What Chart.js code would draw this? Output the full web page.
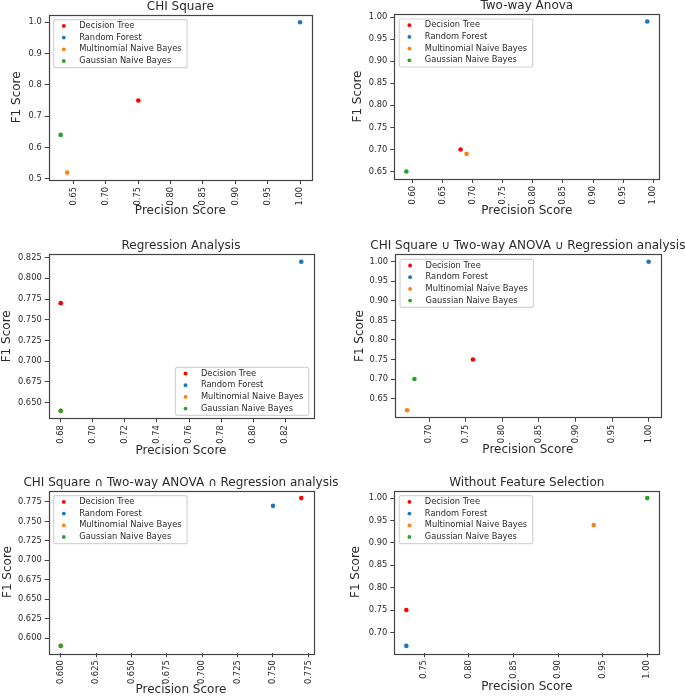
<!DOCTYPE html>
<html>
<head>
<meta charset="utf-8">
<script src="https://cdn.jsdelivr.net/npm/chart.js@4.4.0/dist/chart.umd.min.js"></script>
<style>
  body { margin: 0; background: #fff; }
  #wrap { position: relative; width: 685px; height: 696px; overflow: hidden; }
  canvas { position: absolute; }
</style>
</head>
<body>
<div id="wrap"></div>
<script>
// model names, same order in every panel
const models = ['Decision Tree', 'Random Forest', 'Multinomial Naive Bayes', 'Gaussian Naive Bayes'];

// CHI Square
const chiPrecision = [0.75, 1.00, 0.64, 0.63];
const chiF1 = [0.75, 1.00, 0.52, 0.64];
const chiXTicks = ['0.65', '0.70', '0.75', '0.80', '0.85', '0.90', '0.95', '1.00'];
const chiYTicks = ['0.5', '0.6', '0.7', '0.8', '0.9', '1.0'];

// Two-way Anova
const anovaPrecision = [0.68, 0.99, 0.69, 0.59];
const anovaF1 = [0.70, 0.99, 0.69, 0.65];
const anovaXTicks = ['0.60', '0.65', '0.70', '0.75', '0.80', '0.85', '0.90', '0.95', '1.00'];
const anovaYTicks = ['0.65', '0.70', '0.75', '0.80', '0.85', '0.90', '0.95', '1.00'];

// Regression Analysis
const regPrecision = [0.68, 0.83, 0.68, 0.68];
const regF1 = [0.77, 0.82, 0.64, 0.64];
const regXTicks = ['0.68', '0.70', '0.72', '0.74', '0.76', '0.78', '0.80', '0.82'];
const regYTicks = ['0.650', '0.675', '0.700', '0.725', '0.750', '0.775', '0.800', '0.825'];

// union of the three
const unionPrecision = [0.76, 1.00, 0.67, 0.68];
const unionF1 = [0.75, 1.00, 0.62, 0.70];
const unionXTicks = ['0.70', '0.75', '0.80', '0.85', '0.90', '0.95', '1.00'];
const unionYTicks = ['0.65', '0.70', '0.75', '0.80', '0.85', '0.90', '0.95', '1.00'];

// intersection of the three
const interPrecision = [0.77, 0.75, 0.60, 0.60];
const interF1 = [0.78, 0.77, 0.59, 0.59];
const interXTicks = ['0.600', '0.625', '0.650', '0.675', '0.700', '0.725', '0.750', '0.775'];
const interYTicks = ['0.600', '0.625', '0.650', '0.675', '0.700', '0.725', '0.750', '0.775'];

// no feature selection
const nofsPrecision = [0.73, 0.73, 0.94, 1.00];
const nofsF1 = [0.75, 0.67, 0.94, 1.00];
const nofsXTicks = ['0.75', '0.80', '0.85', '0.90', '0.95', '1.00'];
const nofsYTicks = ['0.70', '0.75', '0.80', '0.85', '0.90', '0.95', '1.00'];

const colors = ['#ff0000', '#1f77b4', '#ff7f0e', '#2ca02c'];
const FONT = '"DejaVu Sans", sans-serif';
const TEXT = '#2b2b2b';
const SPINE = '#444';

const panels = [
  { title: 'CHI Square', px: chiPrecision, f1: chiF1, xt: chiXTicks, yt: chiYTicks,
    box: { x: 0, y: 0, w: 340, h: 225, left: 48.7, top: 14.7, right: 28, bottom: 45 }, xlab: 31, ylab: 31.4, legend: 'tl' },
  { title: 'Two-way Anova', px: anovaPrecision, f1: anovaF1, xt: anovaXTicks, yt: anovaYTicks,
    box: { x: 340, y: 0, w: 345, h: 225, left: 54.3, top: 14, right: 25.7, bottom: 46 }, xlab: 31.7, ylab: 36, legend: 'tl' },
  { title: 'Regression Analysis', px: regPrecision, f1: regF1, xt: regXTicks, yt: regYTicks,
    box: { x: 0, y: 225, w: 340, h: 235, left: 48.7, top: 29.3, right: 26.7, bottom: 41.7 }, xlab: 32.7, ylab: 42, legend: 'br' },
  { title: 'CHI Square \u222A Two-way ANOVA \u222A Regression analysis', px: unionPrecision, f1: unionF1, xt: unionXTicks, yt: unionYTicks,
    box: { x: 340, y: 225, w: 345, h: 235, left: 55, top: 29.3, right: 24.3, bottom: 42.3 }, xlab: 32.3, ylab: 35, legend: 'tl' },
  { title: 'CHI Square \u2229 Two-way ANOVA \u2229 Regression analysis', px: interPrecision, f1: interF1, xt: interXTicks, yt: interYTicks,
    box: { x: 0, y: 460, w: 340, h: 236, left: 48.7, top: 30.7, right: 26.7, bottom: 42.7 }, xlab: 36.7, ylab: 40.4, legend: 'tl' },
  { title: 'Without Feature Selection', px: nofsPrecision, f1: nofsF1, xt: nofsXTicks, yt: nofsYTicks,
    box: { x: 340, y: 460, w: 345, h: 236, left: 54.3, top: 30.7, right: 25.7, bottom: 42.7 }, xlab: 33.4, ylab: 38.3, legend: 'tl' }
];

// matplotlib style 5% margins around the data
function range(vals) {
  const lo = Math.min(...vals), hi = Math.max(...vals);
  const m = (hi - lo) * 0.05;
  return [lo - m, hi + m];
}

// frame, titles, axis labels and legend drawn inside the chart
const decor = {
  id: 'decor',
  afterDraw(chart, args, opts) {
    const ctx = chart.ctx;
    const a = chart.chartArea;
    ctx.save();
    ctx.strokeStyle = SPINE;
    ctx.lineWidth = 1.2;
    ctx.strokeRect(Math.round(a.left) + 0.5, Math.round(a.top) + 0.5, Math.round(a.right - a.left), Math.round(a.bottom - a.top));

    ctx.fillStyle = TEXT;
    ctx.textAlign = 'center';
    ctx.textBaseline = 'middle';
    ctx.font = '12px ' + FONT;
    ctx.fillText(opts.title, (a.left + a.right) / 2, a.top - 8);
    ctx.fillText('Precision Score', (a.left + a.right) / 2, a.bottom + opts.xlab);
    ctx.save();
    ctx.translate(a.left - opts.ylab, (a.top + a.bottom) / 2);
    ctx.rotate(-Math.PI / 2);
    ctx.fillText('F1 Score', 0, 0);
    ctx.restore();

    // legend
    ctx.font = '8.3px ' + FONT;
    const ds = chart.data.datasets;
    let tw = 0;
    ds.forEach(d => { tw = Math.max(tw, ctx.measureText(d.label).width); });
    const w = 26 + tw + 5, h = 48;
    let lx, ly;
    if (opts.legend === 'br') { lx = a.right - 5 - w; ly = a.bottom - 3.5 - h; }
    else { lx = a.left + 4.5; ly = a.top + 4.5; }
    ctx.beginPath();
    ctx.roundRect(lx + 0.5, ly + 0.5, w, h, 2);
    ctx.fillStyle = 'rgba(255,255,255,0.8)';
    ctx.fill();
    ctx.strokeStyle = '#d4d4d4';
    ctx.stroke();
    ctx.textAlign = 'left';
    ds.forEach((d, i) => {
      const cy = ly + 6.7 + i * 11.7;
      ctx.beginPath();
      ctx.arc(lx + 10.6, cy, 1.9, 0, Math.PI * 2);
      ctx.fillStyle = d.backgroundColor;
      ctx.fill();
      ctx.fillStyle = TEXT;
      ctx.fillText(d.label, lx + 26, cy);
    });
    ctx.restore();
  }
};

const wrap = document.getElementById('wrap');
panels.forEach(p => {
  const b = p.box;
  const cv = document.createElement('canvas');
  cv.width = b.w; cv.height = b.h;
  cv.style.left = b.x + 'px'; cv.style.top = b.y + 'px';
  wrap.appendChild(cv);

  const xr = range(p.px), yr = range(p.f1);
  const xv = p.xt.map(Number), yv = p.yt.map(Number);
  const tickFont = { family: FONT, size: 8.3 };

  new Chart(cv, {
    type: 'scatter',
    data: {
      datasets: models.map((m, i) => ({
        label: m,
        data: [{ x: p.px[i], y: p.f1[i] }],
        backgroundColor: colors[i],
        borderWidth: 0,
        pointRadius: 2.3,
        order: models.length - i
      }))
    },
    options: {
      responsive: false,
      animation: false,
      layout: { padding: { top: b.top, right: b.right, left: 0, bottom: 0 } },
      plugins: {
        legend: { display: false },
        tooltip: { enabled: false },
        decor: { title: p.title, xlab: p.xlab, ylab: p.ylab, legend: p.legend }
      },
      scales: {
        x: {
          type: 'linear', min: xr[0], max: xr[1],
          afterBuildTicks: s => { s.ticks = xv.map(v => ({ value: v })); },
          afterFit: s => { s.height = b.bottom; },
          grid: { drawOnChartArea: false, drawTicks: true, tickLength: 4, color: SPINE },
          border: { display: false },
          ticks: { autoSkip: false, minRotation: 90, maxRotation: 90, padding: 3, font: tickFont, color: TEXT,
                   callback: (v, i) => p.xt[i] }
        },
        y: {
          type: 'linear', min: yr[0], max: yr[1],
          afterBuildTicks: s => { s.ticks = yv.map(v => ({ value: v })); },
          afterFit: s => { s.width = b.left; },
          grid: { drawOnChartArea: false, drawTicks: true, tickLength: 4, color: SPINE },
          border: { display: false },
          ticks: { autoSkip: false, padding: 3, font: tickFont, color: TEXT,
                   callback: (v, i) => p.yt[i] }
        }
      }
    },
    plugins: [decor]
  });
});
</script>
</body>
</html>
